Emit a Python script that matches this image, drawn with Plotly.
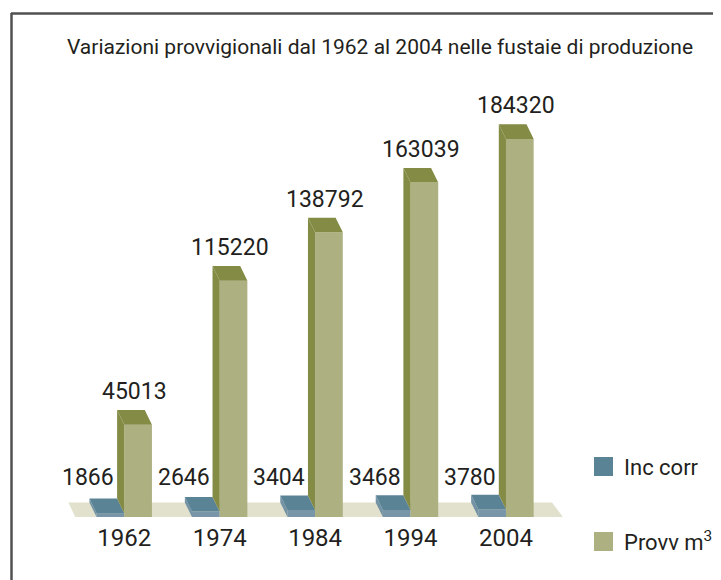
import plotly.graph_objects as go

# ---- data ----
years = ["1962", "1974", "1984", "1994", "2004"]
inc_corr = [1866, 2646, 3404, 3468, 3780]
provv_m3 = [45013, 115220, 138792, 163039, 184320]
series_names = ["Inc corr", "Provv m<sup>3</sup>"]
title_text = "Variazioni provvigionali dal 1962 al 2004 nelle fustaie di produzione"

# ---- style ----
FONT = "Roboto, Liberation Sans Narrow, sans-serif"
TEXT = "#231f20"
GREEN_FRONT = "#adb080"
GREEN_DARK = "#838b45"
BLUE_FRONT = "#7896a8"
BLUE_TOP = "#5b8396"
BLUE_SIDE = "#7393a5"
FLOOR = "#e1e1cd"
FRAME = "#505050"

W = 0.29       # bar width (category units)
DX = 0.075     # depth offset x (category units)
Y_MAX = 222800
DY = 7100      # depth offset y (value units)

OFF = 8  # page body margin of the browser
WIDTH, HEIGHT = 721 - OFF, 580 - OFF
L, R, T, B = 67 - OFF, 153, 60 - OFF, 63
PW = WIDTH - L - R
PH = HEIGHT - T - B


def px_x(px):
    return (px - OFF - L) / PW


def px_y(py):
    return (HEIGHT - B - (py - OFF)) / PH


xs = list(range(len(years)))


def faces(vals, lefts, bottoms):
    sx, sy, tx, ty = [], [], [], []
    for xl, v, b in zip(lefts, vals, bottoms):
        sx += [xl, xl, xl - DX, xl - DX, xl, None]
        sy += [b, v, v + DY, b + DY, b, None]
        xr = xl + W
        tx += [xl, xr, xr - DX, xl - DX, xl, None]
        ty += [v, v, v + DY, v + DY, v, None]
    return sx, sy, tx, ty


fig = go.Figure()

# front faces (bars)
fig.add_trace(go.Bar(x=xs, y=inc_corr, width=W, offset=-W, name="Inc corr",
                     marker=dict(color=BLUE_FRONT, line=dict(width=0)),
                     showlegend=False))
fig.add_trace(go.Bar(x=xs, y=provv_m3, width=W, offset=0, name="Provv m3",
                     marker=dict(color=GREEN_FRONT, line=dict(width=0)),
                     showlegend=False))


def poly(px_, py_, color):
    fig.add_trace(go.Scatter(x=px_, y=py_, fill="toself", fillcolor=color,
                             mode="lines", line=dict(width=0, color=color),
                             hoverinfo="skip", showlegend=False))


bsx, bsy, btx, bty = faces(inc_corr, [i - W for i in xs], [0] * len(xs))
poly(bsx, bsy, BLUE_SIDE)
poly(btx, bty, BLUE_TOP)
gsx, gsy, gtx, gty = faces(provv_m3, xs, inc_corr)
poly(gsx, gsy, GREEN_DARK)
poly(gtx, gty, GREEN_DARK)

shapes = []
# floor
shapes.append(dict(type="path", xref="x", yref="y", layer="below",
                   path=f"M {-0.513},0 L {-0.586},{DY} L {4.482},{DY} L {4.597},0 Z",
                   fillcolor=FLOOR, line=dict(width=0)))
# frame
shapes.append(dict(type="line", xref="paper", yref="paper",
                   x0=px_x(11), x1=px_x(725), y0=px_y(13.5), y1=px_y(13.5),
                   line=dict(color=FRAME, width=2.5)))
shapes.append(dict(type="line", xref="paper", yref="paper",
                   x0=px_x(11.5), x1=px_x(11.5), y0=px_y(13), y1=px_y(585),
                   line=dict(color=FRAME, width=2.5)))
# legend swatches
for (c, y0, y1) in [(BLUE_TOP, 457, 476), (GREEN_FRONT, 532, 551)]:
    shapes.append(dict(type="rect", xref="paper", yref="paper",
                       x0=px_x(594), x1=px_x(613), y0=px_y(y1), y1=px_y(y0),
                       fillcolor=c, line=dict(width=0)))

annotations = []
for i, v in zip(xs, provv_m3):
    annotations.append(dict(x=i + W / 2 - DX / 2, y=v + DY, xref="x", yref="y",
                            text=f"{v}", showarrow=False, yanchor="bottom", yshift=3,
                            font=dict(family=FONT, size=23, color=TEXT)))
for i, v in zip(xs, inc_corr):
    annotations.append(dict(x=i - W / 2, y=0, xref="x", yref="y",
                            text=f"{v}", showarrow=False, yanchor="middle",
                            xshift=-22, yshift=40,
                            font=dict(family=FONT, size=23, color=TEXT)))
for name, py in zip(series_names, [467, 541]):
    annotations.append(dict(x=px_x(622), y=px_y(py), xref="paper", yref="paper",
                            text=name, showarrow=False, xanchor="left", yanchor="middle",
                            font=dict(family=FONT, size=22, color=TEXT)))

fig.update_layout(
    width=WIDTH, height=HEIGHT,
    margin=dict(l=L, r=R, t=T, b=B),
    paper_bgcolor="white", plot_bgcolor="white",
    barmode="overlay",
    showlegend=False,
    title=dict(text=title_text, x=(380 - OFF) / WIDTH, y=1 - (47 - OFF) / HEIGHT,
               xref="container", yref="container",
               xanchor="center", yanchor="middle",
               font=dict(family=FONT, size=21, color=TEXT)),
    xaxis=dict(range=[-0.6, 4.65], tickvals=xs, ticktext=years,
               showgrid=False, zeroline=False, showline=False, ticks="",
               ticklabelstandoff=4,
               tickfont=dict(family=FONT, size=24, color=TEXT), fixedrange=True),
    yaxis=dict(range=[0, Y_MAX], visible=False, fixedrange=True),
    shapes=shapes,
    annotations=annotations,
)

fig.write_html("out.html", config={"displayModeBar": False})
